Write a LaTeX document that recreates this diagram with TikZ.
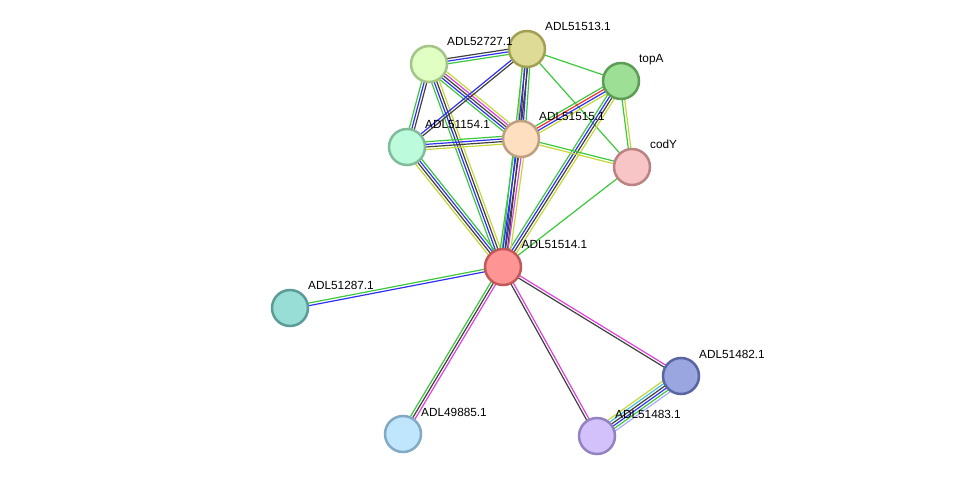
\documentclass[tikz,border=0pt]{standalone}
\usepackage{fontspec}
\setmainfont{Liberation Sans}
\usetikzlibrary{calc}
\pgfdeclarelayer{background}
\pgfsetlayers{background,main}
\definecolor{cg}{HTML}{3CC83C}
\definecolor{cb}{HTML}{3030F5}
\definecolor{ck}{HTML}{404040}
\definecolor{cm}{HTML}{E040E0}
\definecolor{cy}{HTML}{C5D83A}
\definecolor{cr}{HTML}{F03030}
\definecolor{cc}{HTML}{40C0E0}
\definecolor{ch}{HTML}{A8A8FF}
% node colours
\definecolor{f727}{HTML}{E0FFC2}\definecolor{d727}{HTML}{A4C488}
\definecolor{f513}{HTML}{DEDB96}\definecolor{d513}{HTML}{A2A052}
\definecolor{ftopA}{HTML}{9DDF94}\definecolor{dtopA}{HTML}{5C9C55}
\definecolor{f154}{HTML}{BCFCDC}\definecolor{d154}{HTML}{80BC9C}
\definecolor{f515}{HTML}{FEDFC0}\definecolor{d515}{HTML}{C0A082}
\definecolor{fcodY}{HTML}{F7C5C5}\definecolor{dcodY}{HTML}{BA8282}
\definecolor{f514}{HTML}{FF9494}\definecolor{d514}{HTML}{C25858}
\definecolor{f287}{HTML}{98DED6}\definecolor{d287}{HTML}{5C9C96}
\definecolor{f482}{HTML}{9AA6DF}\definecolor{d482}{HTML}{5A66A2}
\definecolor{f885}{HTML}{BFE6FC}\definecolor{d885}{HTML}{82AAC4}
\definecolor{f483}{HTML}{D2C1FB}\definecolor{d483}{HTML}{9482C2}
\newcommand\sedge[4]{%
  \foreach \cc [count=\ii] in {#4}{%
    \pgfmathsetmacro\off{(\ii-(#3+1)/2)*2.6}%
    \draw[eline,color=\cc] ($(#1.center)!\off pt!90:(#2.center)$) -- ($(#2.center)!\off pt!-90:(#1.center)$);
  }}
\tikzset{
  prot/.style={circle,draw=d#1,fill=f#1,line width=2.5pt,minimum size=36pt,inner sep=0pt},
  lbl/.style={anchor=base west,inner sep=0pt,font=\fontsize{11.8}{13}\selectfont,text=black},
  eline/.style={line width=1.2pt}
}
\begin{document}
\begin{tikzpicture}[x=1pt,y=-1pt]
\useasboundingbox (0,0) rectangle (975,481);
% nodes
\node[prot=727] (n727) at (429,64) {};
\node[prot=513] (n513) at (527,49) {};
\node[prot=topA] (ntopA) at (621,81) {};
\node[prot=154] (n154) at (407,147) {};
\node[prot=515] (n515) at (521,139) {};
\node[prot=codY] (ncodY) at (632,167) {};
\node[prot=514] (n514) at (503,267) {};
\node[prot=287] (n287) at (290,308) {};
\node[prot=482] (n482) at (681,376) {};
\node[prot=885] (n885) at (403,434) {};
\node[prot=483] (n483) at (597,436) {};
% edges
\begin{pgfonlayer}{background}
\sedge{n727}{n513}{3}{cg,cb,ck}
\sedge{n727}{n515}{5}{cg,cb,ck,cm,cy}
\sedge{n727}{n154}{3}{cg,cb,ck}
\sedge{n727}{n514}{4}{cg,cb,ck,cy}
\sedge{n513}{n154}{2}{cb,ck}
\sedge{n515}{n513}{4}{cg,cb,ck,cy}
\sedge{n513}{n514}{3}{cg,cb,ck}
\sedge{n513}{ntopA}{1}{cg}
\sedge{n513}{ncodY}{1}{cg}
\sedge{ntopA}{n515}{4}{cg,cr,cb,cy}
\sedge{ntopA}{n514}{4}{cg,cb,ck,cy}
\sedge{ntopA}{ncodY}{2}{cg,cy}
\sedge{n515}{n154}{4}{cg,cb,ck,cy}
\sedge{n514}{n154}{4}{cg,cb,ck,cy}
\sedge{n515}{n514}{5}{cg,cb,ck,cm,cy}
\sedge{ncodY}{n515}{2}{cg,cy}
\sedge{ncodY}{n514}{1}{cg}
\sedge{n514}{n287}{2}{cg,cb}
\sedge{n514}{n885}{3}{cg,ck,cm}
\sedge{n514}{n483}{2}{ck,cm}
\sedge{n514}{n482}{2}{ck,cm}
\sedge{n483}{n482}{6}{ch,cg,cb,ck,cc,cy}
\end{pgfonlayer}
% labels
\node[lbl] (t727) at ($(n727.center)+(18,-18)$) {ADL52727.1};
\node[lbl] (t513) at ($(n513.center)+(18,-18)$) {ADL51513.1};
\node[lbl] (ttopA) at ($(ntopA.center)+(18,-18)$) {topA};
\node[lbl] (t154) at ($(n154.center)+(18,-18)$) {ADL51154.1};
\node[lbl] (t515) at ($(n515.center)+(18,-18)$) {ADL51515.1};
\node[lbl] (tcodY) at ($(ncodY.center)+(18,-18)$) {codY};
\node[lbl] (t514) at ($(n514.center)+(18.5,-18)$) {ADL51514.1};
\node[lbl] (t287) at ($(n287.center)+(18,-18)$) {ADL51287.1};
\node[lbl] (t482) at ($(n482.center)+(18,-18)$) {ADL51482.1};
\node[lbl] (t885) at ($(n885.center)+(18,-18)$) {ADL49885.1};
\node[lbl] (t483) at ($(n483.center)+(18,-18)$) {ADL51483.1};
\end{tikzpicture}
\end{document}
